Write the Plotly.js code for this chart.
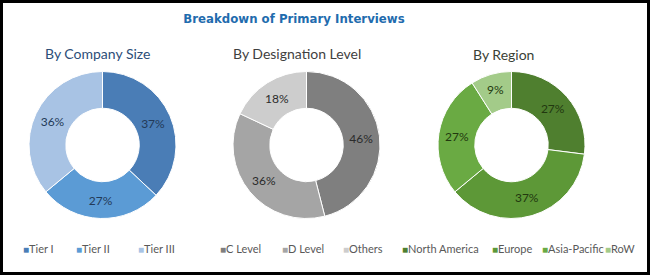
<!DOCTYPE html>
<html>
<head>
<meta charset="utf-8">
<script src="https://cdn.plot.ly/plotly-3.0.1.min.js"></script>
<style>
html,body{margin:0;padding:0;background:#fff;}
#chart{width:650px;height:275px;}
</style>
</head>
<body>
<div id="chart"></div>
<script>
// ---- data ----
const chartTitle = "Breakdown of Primary Interviews";
const groupTitles = ["By Company Size", "By Designation Level", "By Region"];

const sizeLabels = ["Tier I", "Tier II", "Tier III"];
const sizeValues = [37, 27, 36];

const desigLabels = ["C Level", "D Level", "Others"];
const desigValues = [46, 36, 18];

const regionLabels = ["North America", "Europe", "Asia-Pacific", "RoW"];
const regionValues = [27, 37, 27, 9];

// ---- styles ----
const sizeColors = ["#4a7db6", "#5b9bd5", "#a8c3e4"];
const desigColors = ["#7f7f7f", "#a5a5a5", "#cdcdcd"];
const regionColors = ["#4f7f2f", "#5d9837", "#6aaa43", "#a3cb89"];

const W = 650, H = 275;
const px = v => v / W, py = v => 1 - v / H;

const cy = 145, R = 73.5;
const centersX = [102.5, 306.5, 511.5];
const textColors = ["#233a58", "#2b2b2b", "#22380f"];
const titleColors = ["#2c4e78", "#3f3f3f", "#3a3f36"];
const titleX = [97.5, 297, 504];
const titleY = [53, 53, 55];

function dom(i) {
  return {x: [px(centersX[i] - R), px(centersX[i] + R)], y: [py(cy + R), py(cy - R)]};
}

const groups = [
  {labels: sizeLabels, values: sizeValues, colors: sizeColors},
  {labels: desigLabels, values: desigValues, colors: desigColors},
  {labels: regionLabels, values: regionValues, colors: regionColors}
];

const data = groups.map((g, i) => ({
  type: "pie",
  labels: g.labels,
  values: g.values,
  domain: dom(i),
  hole: 0.5,
  sort: false,
  direction: "clockwise",
  rotation: 0,
  texttemplate: "%{value}%",
  textposition: "inside",
  insidetextorientation: "horizontal",
  textfont: {family: "Lato, sans-serif", size: 12, color: textColors[i]},
  marker: {colors: g.colors, line: {color: "#ffffff", width: 1}},
  showlegend: false,
  hoverinfo: "label+percent"
}));

// legend entry x positions (left of swatch), per group
const legendX = [
  [21, 74, 136],
  [218, 280, 341],
  [400, 490, 540, 603]
];
const legendY = 249;

const annotations = [];
groupTitles.forEach((t, i) => {
  annotations.push({
    text: t, xref: "paper", yref: "paper", x: px(titleX[i]), y: py(titleY[i]),
    xanchor: "center", yanchor: "middle", showarrow: false,
    font: {family: "Lato, sans-serif", size: 14, color: titleColors[i]}
  });
});
groups.forEach((g, i) => {
  g.labels.forEach((lab, j) => {
    annotations.push({
      text: "<span style='color:" + g.colors[j] + ";font-size:10px'>■</span>" + lab,
      xref: "paper", yref: "paper", x: px(legendX[i][j]), y: py(legendY),
      xanchor: "left", yanchor: "middle", showarrow: false,
      font: {family: "Lato, sans-serif", size: 11, color: "#595959"}
    });
  });
});

const layout = {
  width: W, height: H,
  margin: {l: 0, r: 0, t: 0, b: 0},
  paper_bgcolor: "#ffffff",
  title: {
    text: "<b>" + chartTitle + "</b>",
    x: px(294), xanchor: "center", y: py(19), yanchor: "middle",
    font: {family: "DejaVu Sans, sans-serif", size: 11.75, color: "#1f6cae"}
  },
  annotations: annotations,
  shapes: [{
    type: "rect", xref: "paper", yref: "paper",
    x0: px(1.5), x1: px(W - 1.5), y0: py(H - 1.5), y1: py(1.5),
    line: {color: "#000000", width: 3}
  }]
};

Plotly.newPlot("chart", data, layout, {staticPlot: true, displayModeBar: false});
</script>
</body>
</html>
